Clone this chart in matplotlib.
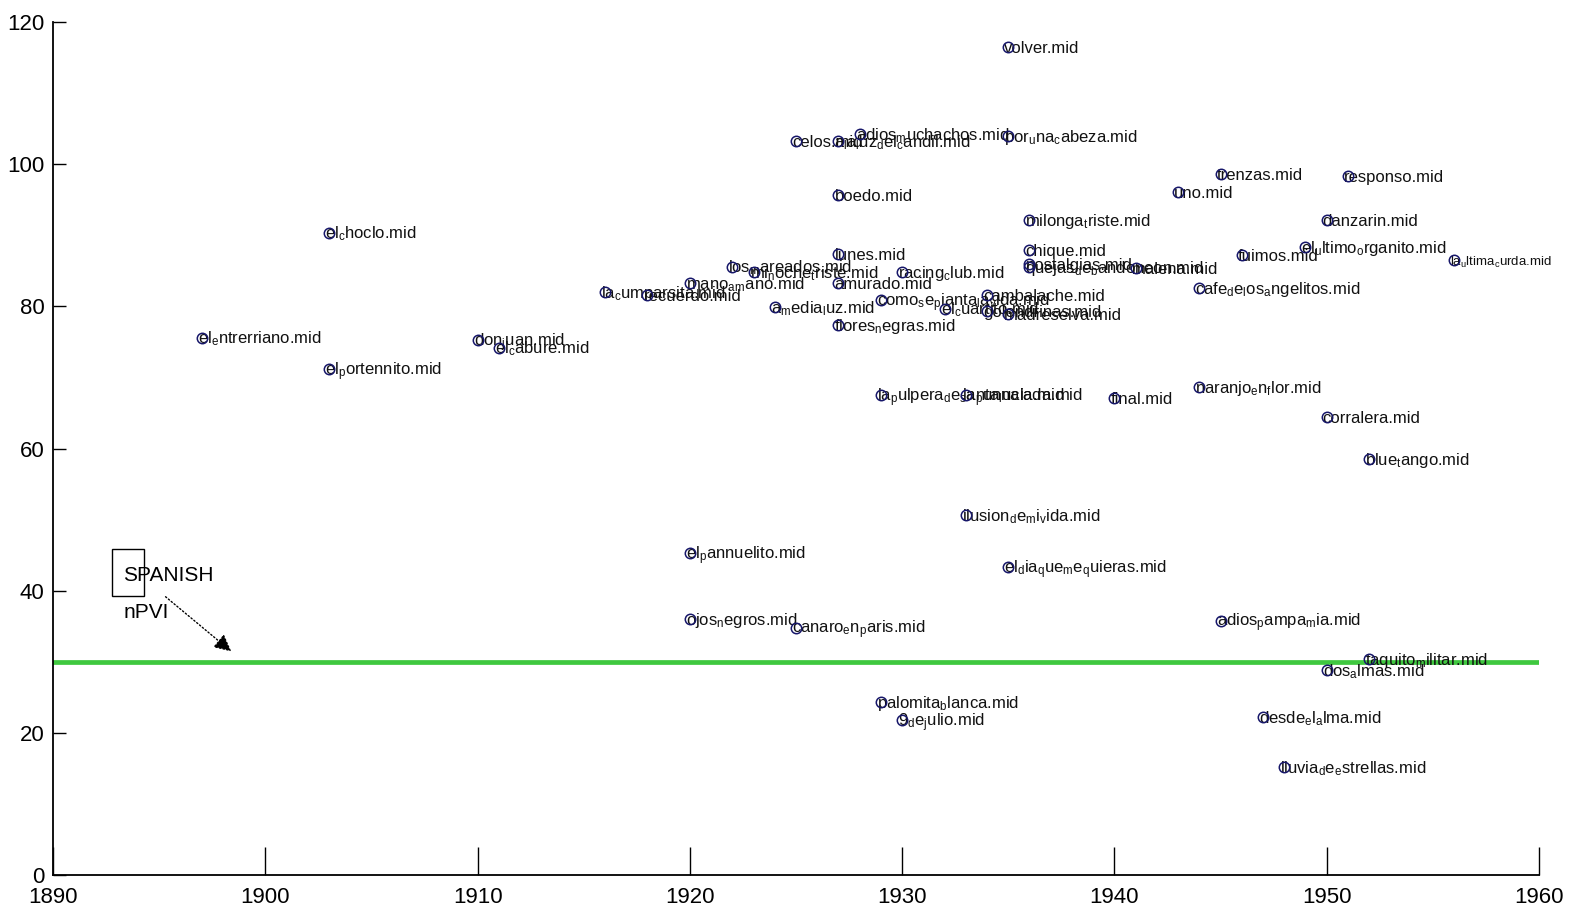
import matplotlib
matplotlib.use("Agg")
import matplotlib.pyplot as plt
from matplotlib import font_manager
from matplotlib.patches import Rectangle
from matplotlib.transforms import offset_copy

# tango files: year of composition vs nPVI
songs = [
    "el_entrerriano.mid", "el_choclo.mid", "el_portennito.mid", "don_juan.mid",
    "el_cabure.mid", "la_cumparsita.mid", "recuerdo.mid", "mano_a_mano.mid",
    "los_mareados.mid", "mi_noche_triste.mid", "a_media_luz.mid", "celos.mid",
    "a_la_luz_del_candil.mid", "adios_muchachos.mid", "por_una_cabeza.mid",
    "volver.mid", "boedo.mid", "lunes.mid", "amurado.mid", "flores_negras.mid",
    "racing_club.mid", "como_se_pianta_la_vida.mid", "el_cuartito.mid",
    "cambalache.mid", "golondrinas.mid", "madreselva.mid",
    "la_pulpera_de_santa_lucia.mid", "la_punnalada.mid", "final.mid",
    "naranjo_en_flor.mid", "corralera.mid", "blue_tango.mid", "uno.mid",
    "trenzas.mid", "responso.mid", "danzarin.mid", "fuimos.mid",
    "el_ultimo_organito.mid", "la_ultima_curda.mid", "cafe_de_los_angelitos.mid",
    "malena.mid", "chique.mid", "milonga_triste.mid", "nostalgias.mid",
    "quejas_de_bandoneon.mid", "el_pannuelito.mid", "ojos_negros.mid",
    "canaro_en_paris.mid", "ilusion_de_mi_vida.mid", "el_dia_que_me_quieras.mid",
    "palomita_blanca.mid", "9_de_julio.mid", "adios_pampa_mia.mid",
    "dos_almas.mid", "taquito_militar.mid", "desde_el_alma.mid",
    "lluvia_de_estrellas.mid",
]
years = [
    1897, 1903, 1903, 1910,
    1911, 1916, 1918, 1920,
    1922, 1923, 1924, 1925,
    1927, 1928, 1935,
    1935, 1927, 1927, 1927, 1927,
    1930, 1929, 1932,
    1934, 1934, 1935,
    1929, 1933, 1940,
    1944, 1950, 1952, 1943,
    1945, 1951, 1950, 1946,
    1949, 1956, 1944,
    1941, 1936, 1936, 1936,
    1936, 1920, 1920,
    1925, 1933, 1935,
    1929, 1930, 1945,
    1950, 1952, 1947,
    1948,
]
npvi = [
    75.6, 90.4, 71.2, 75.3,
    74.2, 82.1, 81.6, 83.3,
    85.6, 84.8, 79.9, 103.3,
    103.3, 104.2, 104.0,
    116.5, 95.7, 87.4, 83.3, 77.4,
    84.9, 80.9, 79.7,
    81.6, 79.3, 79.0,
    67.5, 67.5, 67.1,
    68.6, 64.4, 58.5, 96.1,
    98.6, 98.4, 92.1, 87.2,
    88.4, 86.6, 82.6,
    85.4, 87.9, 92.1, 86.0,
    85.6, 45.3, 36.0,
    34.8, 50.6, 43.3,
    24.3, 21.8, 35.8,
    28.8, 30.4, 22.2,
    15.2,
]
spanish_npvi = 30.0
xticks = list(range(1890, 1961, 10))
yticks = list(range(0, 121, 20))

# narrow font like the original MATLAB rendering, if there is one
available = {f.name for f in font_manager.fontManager.ttflist}
FONT = "DejaVu Sans"
for cand in ["Liberation Sans Narrow", "Liberation Sans"]:
    if cand in available:
        FONT = cand
        break
plt.rcParams["font.family"] = [FONT, "DejaVu Sans"]
plt.rcParams["mathtext.fontset"] = "custom"
plt.rcParams["mathtext.rm"] = FONT
plt.rcParams["mathtext.it"] = FONT


def tex_label(name):
    # MATLAB's TeX interpreter turns "_x" into a subscript x
    out = ""
    i = 0
    while i < len(name):
        if name[i] == "_" and i + 1 < len(name):
            out += r"$_{\mathrm{%s}}$" % name[i + 1]
            i += 2
        else:
            out += name[i]
            i += 1
    return out


fig = plt.figure(figsize=(15.74, 9.16), dpi=100)
ax = fig.add_axes([0.0337, 0.0448, 0.944, 0.931])

ax.axhline(spanish_npvi, color="#3fc83f", lw=3.4, zorder=1)

ax.plot(years, npvi, "o", ms=7.5, mfc="none", mec="#17176a", mew=1.1, zorder=3)

trans = offset_copy(ax.transData, fig=fig, x=-4, y=-6, units="dots")
labels = []
for x, y, name in zip(years, npvi, songs):
    t = ax.text(x, y, tex_label(name), transform=trans, ha="left", va="baseline",
                fontsize=12, color="#111111", zorder=2)
    labels.append(t)

# shrink any label that would run past the right edge of the figure
fig.canvas.draw()
renderer = fig.canvas.get_renderer()
fig_w = fig.bbox.width
for t in labels:
    size = t.get_fontsize()
    while t.get_window_extent(renderer).x1 > fig_w - 4 and size > 8:
        size -= 0.5
        t.set_fontsize(size)

# SPANISH nPVI annotation
ax.add_patch(Rectangle((1892.8, 39.3), 1.5, 6.6, fill=False, ec="black", lw=1.0))
ax.text(1893.3, 42.2, "SPANISH", fontsize=15, ha="left", va="center")
ax.text(1893.3, 36.9, "nPVI", fontsize=15, ha="left", va="center")
ax.annotate("", xy=(1898.5, 31.2), xytext=(1895.2, 39.4),
            arrowprops=dict(arrowstyle="-|>", linestyle=":", color="black",
                            lw=1.0, mutation_scale=26))

ax.set_xlim(1890, 1960)
ax.set_ylim(0, 120)
ax.set_xticks(xticks)
ax.set_yticks(yticks)
ax.tick_params(axis="x", direction="in", length=20, width=1.0, pad=9, labelsize=16)
ax.tick_params(axis="y", direction="in", length=9.5, width=1.0, pad=6, labelsize=16)
for side in ["top", "right"]:
    ax.spines[side].set_visible(False)
for side in ["left", "bottom"]:
    ax.spines[side].set_linewidth(1.3)

fig.savefig("out.png", dpi=100)
